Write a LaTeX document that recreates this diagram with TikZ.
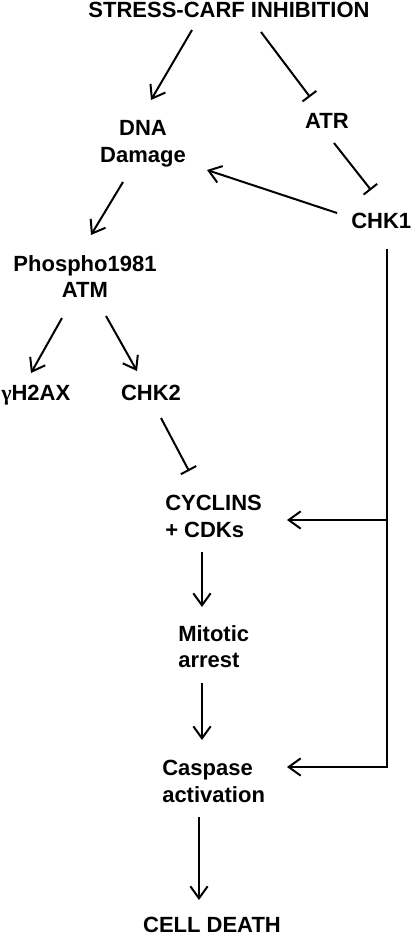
\documentclass[tikz,border=0pt]{standalone}
\usepackage{fontspec}
\setmainfont{Liberation Sans}
\newfontfamily\greekfont{Liberation Serif}
\usetikzlibrary{arrows.meta, calc}

\begin{document}
\begin{tikzpicture}[
        x=0.75pt, y=-0.75pt,
        every node/.style={font=\bfseries\fontsize{16.5}{20}\selectfont, inner sep=0pt},
        act/.style={line width=1.5pt, -{Straight Barb[length=9pt, width=13pt]}},
        inhib/.style={line width=1.5pt, -{Bar[width=13pt]}}
    ]
    \useasboundingbox (0,0) rectangle (411,939);

    \node[anchor=north] (stress) at (229,2) {STRESS-CARF INHIBITION};
    \node[anchor=north, align=center] (dna) at (143,120) {DNA\\Damage};
    \node[anchor=north] (atr) at (327,113) {ATR};
    \node[anchor=north west] (chk1) at (351,213) {CHK1};
    \node[anchor=north, align=center] (atm) at (85,255) {Phospho1981\\ATM};
    \node[anchor=north west] (h2ax) at (1,385) {{\greekfont γ}H2AX};
    \node[anchor=north] (chk2) at (151,385) {CHK2};
    \node[anchor=north west, align=left] (cyclins) at (165,495) {CYCLINS\\+ CDKs};
    \node[anchor=north west, align=left] (mitotic) at (178,625) {Mitotic\\arrest};
    \node[anchor=north west, align=left] (caspase) at (162,760) {Caspase\\activation};
    \node[anchor=north] (death) at (212,917) {CELL DEATH};
    \coordinate (branch) at (387,520);

    \draw[act] ($(stress.north)+(-37,28)$) -- ($(dna.north)+(8,-20)$);
    \draw[inhib] ($(stress.north)+(32,30)$) -- ($(atr.north)+(-17,-16)$);
    \draw[inhib] ($(atr.north)+(7,30)$) -- ($(chk1.north west)+(20,-23)$);
    \draw[act] ($(chk1.north west)+(-14,0)$) -- ($(dna.north)+(64,50)$);
    \draw[act] ($(dna.north)+(-20,62)$) -- ($(atm.north)+(6,-20)$);
    \draw[act] ($(atm.north)+(-23,63)$) -- ($(h2ax.north west)+(30,-12)$);
    \draw[act] ($(atm.north)+(21,61)$) -- ($(chk2.north)+(-14,-14)$);
    \draw[inhib] ($(chk2.north)+(10,33)$) -- ($(cyclins.north west)+(24,-24)$);
    \draw[act] ($(chk1.north west)+(36,36)$) |- ($(caspase.north west)+(125,7)$);
    \draw[act] (branch) -- ($(cyclins.north west)+(122,25)$);
    \draw[act] ($(cyclins.north west)+(37,57)$) -- ($(mitotic.north west)+(24,-18)$);
    \draw[act] ($(mitotic.north west)+(24,58)$) -- ($(caspase.north west)+(40,-20)$);
    \draw[act] ($(caspase.north west)+(37,57)$) -- ($(death.north)+(-13,-17)$);
\end{tikzpicture}
\end{document}
